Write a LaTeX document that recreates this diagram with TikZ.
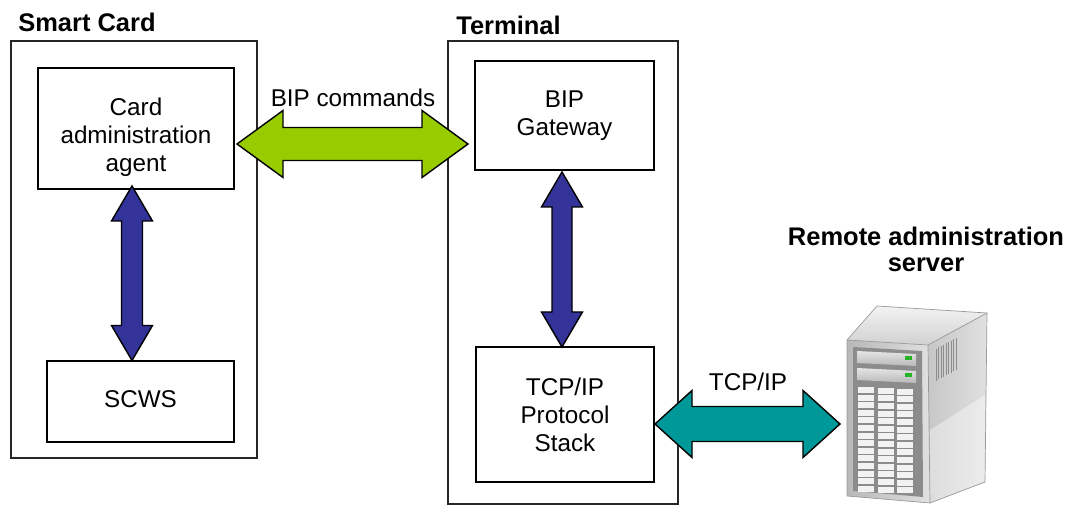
\documentclass[tikz,border=0pt]{standalone}
\usepackage{fontspec}
\setmainfont{Liberation Sans}
\usetikzlibrary{fit,calc}
\definecolor{bipgreen}{RGB}{153,204,0}
\definecolor{bipblue}{RGB}{51,51,153}
\definecolor{bipteal}{RGB}{0,153,153}
% horizontal double arrow: style, left tip, right tip, head length, head half width, shaft half width
\newcommand{\dblH}[6]{\filldraw[#1] (#2) -- ($(#2)+(#4,-#5)$) -- ($(#2)+(#4,-#6)$) -- ($(#3)+(-#4,-#6)$) -- ($(#3)+(-#4,-#5)$) -- (#3) -- ($(#3)+(-#4,#5)$) -- ($(#3)+(-#4,#6)$) -- ($(#2)+(#4,#6)$) -- ($(#2)+(#4,#5)$) -- cycle;}
% vertical double arrow: style, top tip, bottom tip, head length, head half width, shaft half width
\newcommand{\dblV}[6]{\filldraw[#1] (#2) -- ($(#2)+(#5,#4)$) -- ($(#2)+(#6,#4)$) -- ($(#3)+(#6,-#4)$) -- ($(#3)+(#5,-#4)$) -- (#3) -- ($(#3)+(-#5,-#4)$) -- ($(#3)+(-#6,-#4)$) -- ($(#2)+(-#6,#4)$) -- ($(#2)+(-#5,#4)$) -- cycle;}
\tikzset{
  box/.style={draw=black, line width=0.8pt, inner sep=0pt, fill=white},
  outer/.style={draw=black!85, line width=0.9pt, inner sep=0pt},
  txt/.style={font=\fontsize{13.8}{15.9}\selectfont, align=center, inner sep=0pt},
  title/.style={font=\fontsize{14.5}{14.8}\selectfont\bfseries, align=center, inner sep=0pt},
  arrowline/.style={draw=black, line width=0.8pt, line join=miter},
}
\begin{document}
\begin{tikzpicture}[x=0.02cm,y=-0.02cm]
\useasboundingbox (0,0) rectangle (1066,513);
\fill[white] (0,0) rectangle (1066,513);

% outer frames
\node[outer, fit={(11,41) (257,458)}] (card) {};
\node[outer, fit={(448,41) (678,504)}] (term) {};
\node[title, anchor=base west] (cardlbl) at (18,32) {Smart Card};
\node[title, anchor=base west] (termlbl) at (456,35) {Terminal};

% inner boxes
\node[box, fit={(38,68) (234,189)}] (agent) {};
\node[txt] (agenttxt) at (136,137) {Card\\administration\\agent};
\node[box, fit={(47,361) (234,442)}] (scws) {};
\node[txt, anchor=base] (scwstxt) at (140.5,408) {SCWS};
\node[box, fit={(475,61) (654,170)}] (gw) {};
\node[txt] (gwtxt) at (564.5,116) {BIP\\Gateway};
\node[box, fit={(476,347) (654,482)}] (tcp) {};
\node[txt] (tcptxt) at (565,415) {TCP/IP\\Protocol\\Stack};

% arrow end points
\coordinate (g1) at (237,144);
\coordinate (g2) at (468,144);
\coordinate (b1t) at (132,186);
\coordinate (b1b) at (132,360.5);
\coordinate (b2t) at (562,172);
\coordinate (b2b) at (562,347);
\coordinate (t1) at (655,424);
\coordinate (t2) at (840,424);

\dblH{arrowline, fill=bipgreen}{g1}{g2}{46}{33.5}{16.5}
\dblV{arrowline, fill=bipblue}{b1t}{b1b}{35}{20.5}{10.5}
\dblV{arrowline, fill=bipblue}{b2t}{b2b}{35}{20.5}{10}
\dblH{arrowline, fill=bipteal}{t1}{t2}{37}{33.5}{17.5}

\node[txt, anchor=base] (biplbl) at (353,107) {BIP commands};
\node[txt, anchor=base] (tcplbl) at (748,391) {TCP/IP};
\node[title, anchor=base] (srvlbl1) at (926,246) {Remote administration};
\node[title, anchor=base] (srvlbl2) at (926,272) {server};

% server picture
\begin{scope}
  % right side
  \shade[left color=black!22, right color=black!12] (928,345) -- (987,313) -- (985,482) -- (930,503) -- cycle;
  \fill[white, opacity=0.4] (930,430) -- (985,395) -- (985,482) -- (930,503) -- cycle;
  % top
  \shade[top color=black!5, bottom color=black!18] (847,340) -- (877,306) -- (987,313) -- (928,345) -- cycle;
  % front
  \shade[left color=black!28, right color=black!12] (847,340) -- (928,345) -- (930,503) -- (847,496) -- cycle;
  \draw[black!40, line width=0.4pt] (847,340) -- (877,306) -- (987,313) -- (985,482) -- (930,503) -- (847,496) -- cycle;
  \draw[black!40, line width=0.4pt] (847,340) -- (928,345) -- (987,313);
  \draw[black!40, line width=0.4pt] (928,345) -- (930,503);
  % inner panel
  \fill[black!45] (853,347) -- (922,351) -- (923,497) -- (853,491) -- cycle;
  % drive bays
  \shade[top color=black!10, bottom color=black!28] (857,351) -- (916,354) -- (916,366) -- (857,363) -- cycle;
  \shade[top color=black!10, bottom color=black!28] (857,368) -- (916,371) -- (916,383) -- (857,380) -- cycle;
  \fill[green!65!black!85] (905,356) rectangle (912,360);
  \fill[green!65!black!85] (905,373) rectangle (912,377);
  % grid of cells
  \foreach \c in {0,1,2}{
    \foreach \r in {0,...,13}{
      \fill[black!5] ({858+\c*19.5},{387+\r*7.6+\c*0.8}) rectangle ({874+\c*19.5},{393+\r*7.6+\c*0.8});
    }
  }
  % vents
  \foreach \v in {936,938.5,...,956}{
    \draw[black!45, line width=0.5pt] (\v,{352-0.54*(\v-930)}) -- (\v,{384-0.54*(\v-930)});
  }
\end{scope}
\end{tikzpicture}
\end{document}
